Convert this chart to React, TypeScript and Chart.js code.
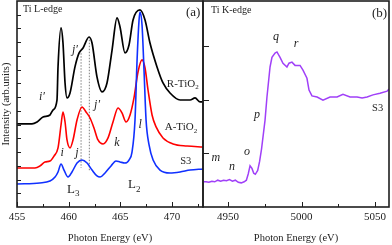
import React, { useEffect, useRef } from "react";
import { Chart, registerables } from "chart.js";

Chart.register(...registerables);

const SERIF = "\"Liberation Serif\", \"Times New Roman\", \"DejaVu Serif\", serif";

// ---------------- Panel (a): Ti L-edge ----------------
const lTickValues = [455, 460, 465, 470];
const lXMarks = [455, 457.5, 460, 462.5, 465, 467.5, 470, 472.5];
const lYMarks = [1, 2, 3, 4, 5, 6, 7, 8, 9, 10, 11, 12, 13, 14];

const rutileEnergy = [455.0, 456.45, 456.94, 457.52, 458.19, 458.48, 458.87, 458.97, 459.26, 459.45, 459.65, 459.84, 460.13, 460.61, 461.0, 461.39, 461.97, 462.26, 462.74, 463.23, 463.71, 464.2, 464.68, 464.97, 465.45, 465.84, 466.23, 466.9, 467.39, 467.87, 468.55, 469.13, 469.81, 470.78, 471.75, 472.23, 472.72, 473.0];
const rutileIntensity = [6.05, 6.05, 6.19, 6.55, 6.7, 7.06, 7.79, 10.2, 13.04, 11.94, 9.03, 7.94, 8.3, 10.2, 11.2, 11.58, 12.38, 11.94, 9.47, 8.38, 9.03, 11.43, 13.77, 13.11, 11.22, 11.8, 13.62, 14.35, 13.62, 11.94, 10.2, 9.03, 8.3, 7.79, 7.79, 7.94, 7.65, 7.65];

const anataseEnergy = [455, 456.74, 457.23, 457.71, 458.19, 458.58, 458.97, 459.26, 459.45, 459.65, 459.84, 460.13, 460.42, 460.81, 461.29, 461.68, 462.07, 462.45, 462.84, 463.33, 463.81, 464.29, 464.78, 465.16, 465.55, 465.94, 466.32, 466.71, 467.1, 467.39, 467.68, 468.07, 468.46, 469.13, 470.1, 471.46, 473];
const anataseIntensity = [2.84, 2.84, 2.99, 3.28, 3.35, 3.71, 4.3, 5.97, 6.92, 6.19, 4.88, 4.3, 4.88, 6.34, 7.28, 6.92, 6.48, 5.75, 4.88, 4.59, 5.03, 6.19, 7.21, 6.85, 6.19, 6.7, 7.94, 9.83, 10.71, 10.12, 8.52, 6.7, 5.83, 5.03, 4.59, 4.44, 4.37];

const s3LEnergy = [455, 457.2, 458.19, 458.68, 458.97, 459.26, 459.55, 459.94, 460.32, 460.81, 461.29, 461.78, 462.26, 462.74, 463.04, 463.52, 464.1, 464.58, 464.97, 465.45, 465.84, 466.13, 466.42, 466.62, 466.81, 466.9, 467.1, 467.29, 467.49, 467.78, 468.17, 468.84, 469.81, 470.78, 471.75, 473];
const s3LIntensity = [1.68, 1.75, 1.89, 2.18, 2.55, 3.13, 2.69, 2.18, 2.55, 3.2, 3.42, 3.2, 2.69, 2.26, 2.18, 2.48, 2.99, 3.35, 3.28, 3.2, 3.42, 4.0, 6.34, 10.7, 13.6, 14.2, 13.25, 10.0, 6.34, 4.52, 3.42, 2.69, 2.48, 2.55, 2.69, 2.77];

const guide1Energy = [461.2, 461.2];
const guide1Intensity = [11.2, 2.85];
const guide2Energy = [462.0, 462.0];
const guide2Intensity = [12.4, 2.6];

// ---------------- Panel (b): Ti K-edge ----------------
const kTickValues = [4950, 5000, 5050];
const kXMarks = [4950, 4975, 5000, 5025, 5050];
const kYMarks = [1, 2, 3];

const s3KEnergy = [4933.5, 4935, 4937, 4939, 4941, 4943, 4945, 4947, 4949, 4951, 4953, 4955, 4957, 4959, 4961, 4962.5, 4963.8, 4965, 4966.3, 4967.5, 4968.6, 4970.2, 4971.5, 4972.8, 4974, 4975.2, 4976.5, 4978.6, 4979.9, 4982, 4983.3, 4985.4, 4987.4, 4990.1, 4991.5, 4993.5, 4995.6, 4999, 5001, 5003.7, 5005.1, 5007.1, 5010.6, 5014.6, 5019.4, 5024.2, 5028.2, 5033, 5037.8, 5041.2, 5044.6, 5048.6, 5053.4, 5058.2, 5059.5];
const s3KIntensity = [0.47, 0.47, 0.46, 0.48, 0.47, 0.5, 0.48, 0.5, 0.49, 0.51, 0.48, 0.5, 0.46, 0.45, 0.47, 0.5, 0.62, 0.77, 0.72, 0.63, 0.61, 0.68, 0.85, 1.08, 1.35, 1.62, 2.05, 2.61, 2.79, 2.87, 2.89, 2.79, 2.68, 2.61, 2.68, 2.7, 2.64, 2.64, 2.55, 2.4, 2.18, 2.07, 2.05, 1.99, 2.05, 2.05, 2.1, 2.05, 2.05, 2.03, 2.05, 2.09, 2.12, 2.16, 2.2];

type Note = { text: string; sub?: string; x: number; y: number; size: number; italic?: boolean; align?: "left" | "center" | "right" };

const notesA: Note[] = [
  { text: "Ti L-edge", x: 455.58, y: 14.42, size: 10, align: "left" },
  { text: "(a)", x: 472.75, y: 14.13, size: 13, align: "right" },
  { text: "i\u2032", x: 457.42, y: 8.0, size: 12, italic: true, align: "center" },
  { text: "j\u2032", x: 460.6, y: 11.45, size: 12, italic: true, align: "center" },
  { text: "j\u2032", x: 462.75, y: 7.45, size: 12, italic: true, align: "center" },
  { text: "R-TiO", sub: "2", x: 469.5, y: 8.95, size: 11, align: "left" },
  { text: "A-TiO", sub: "2", x: 469.3, y: 5.8, size: 11, align: "left" },
  { text: "S3", x: 470.8, y: 3.35, size: 10.5, align: "left" },
  { text: "i", x: 459.36, y: 3.93, size: 12, italic: true, align: "center" },
  { text: "j", x: 460.81, y: 3.93, size: 12, italic: true, align: "center" },
  { text: "k", x: 464.68, y: 4.66, size: 12, italic: true, align: "center" },
  { text: "l", x: 466.91, y: 5.97, size: 12, italic: true, align: "center" },
  { text: "L", sub: "3", x: 459.84, y: 1.25, size: 13, align: "left" },
  { text: "L", sub: "2", x: 465.75, y: 1.6, size: 13, align: "left" },
];

const notesB: Note[] = [
  { text: "Ti K-edge", x: 4938.4, y: 3.67, size: 10, align: "left" },
  { text: "(b)", x: 5058.2, y: 3.61, size: 13, align: "right" },
  { text: "q", x: 4982.7, y: 3.17, size: 12, italic: true, align: "center" },
  { text: "r", x: 4996.3, y: 3.04, size: 12, italic: true, align: "center" },
  { text: "p", x: 4969.7, y: 1.71, size: 12, italic: true, align: "center" },
  { text: "S3", x: 5048.0, y: 1.84, size: 10.5, align: "left" },
  { text: "m", x: 4941.8, y: 0.91, size: 12, italic: true, align: "center" },
  { text: "n", x: 4952.7, y: 0.74, size: 12, italic: true, align: "center" },
  { text: "o", x: 4962.9, y: 1.02, size: 12, italic: true, align: "center" },
];

const toPoints = (xs: number[], ys: number[]) => xs.map((x, i) => ({ x, y: ys[i] }));

function framePlugin(xMarks: number[], majorStep: number, yMarks: number[], yLen: number) {
  return {
    id: "frameTicks",
    afterDatasetsDraw(chart: any) {
      const { ctx, chartArea, scales } = chart;
      const { left, right, top, bottom } = chartArea;
      ctx.save();
      ctx.strokeStyle = "#1e1e1e";
      ctx.lineWidth = 1;
      ctx.beginPath();
      for (const v of xMarks) {
        const px = Math.round(scales.x.getPixelForValue(v)) + 0.5;
        const major = Math.abs(v / majorStep - Math.round(v / majorStep)) < 1e-6;
        const len = major ? 5 : 3;
        ctx.moveTo(px, bottom);
        ctx.lineTo(px, bottom - len);
      }
      for (const v of yMarks) {
        const py = Math.round(scales.y.getPixelForValue(v)) + 0.5;
        ctx.moveTo(left, py);
        ctx.lineTo(left + yLen, py);
      }
      ctx.stroke();
      ctx.lineWidth = 1.6;
      ctx.strokeRect(left, top, right - left, bottom - top);
      ctx.restore();
    },
  };
}

function notesPlugin(notes: Note[]) {
  return {
    id: "notes",
    afterDraw(chart: any) {
      const { ctx, scales } = chart;
      ctx.save();
      ctx.fillStyle = "#1e1e1e";
      ctx.textBaseline = "middle";
      for (const n of notes) {
        const px = scales.x.getPixelForValue(n.x);
        const py = scales.y.getPixelForValue(n.y);
        const mainFont = `${n.italic ? "italic " : ""}${n.size}px ${SERIF}`;
        const subSize = Math.round(n.size * 0.68);
        const subFont = `${subSize}px ${SERIF}`;
        ctx.font = mainFont;
        const w1 = ctx.measureText(n.text).width;
        let w2 = 0;
        if (n.sub) {
          ctx.font = subFont;
          w2 = ctx.measureText(n.sub).width;
        }
        const total = w1 + w2;
        let start = px;
        if (n.align === "center") start = px - total / 2;
        else if (n.align === "right") start = px - total;
        ctx.textAlign = "left";
        ctx.font = mainFont;
        ctx.fillText(n.text, start, py);
        if (n.sub) {
          ctx.font = subFont;
          ctx.fillText(n.sub, start + w1, py + n.size * 0.32);
        }
      }
      ctx.restore();
    },
  };
}

function makeConfig(opts: {
  datasets: any[];
  xMin: number;
  xMax: number;
  yMax: number;
  tickValues: number[];
  padLeft: number;
  padRight: number;
  yTitle: boolean;
  yWidth: number;
  plugins: any[];
}) {
  return {
    type: "line",
    data: { datasets: opts.datasets },
    options: {
      responsive: false,
      maintainAspectRatio: false,
      animation: false,
      parsing: false,
      layout: { padding: { left: opts.padLeft, right: opts.padRight, top: 1, bottom: 0 } },
      plugins: { legend: { display: false }, tooltip: { enabled: false } },
      elements: { point: { radius: 0 } },
      scales: {
        x: {
          type: "linear",
          min: opts.xMin,
          max: opts.xMax,
          grid: { display: false, drawTicks: false },
          border: { display: false },
          ticks: {
            font: { family: SERIF, size: 11 },
            color: "#222",
            padding: 4,
            maxRotation: 0,
            autoSkip: false,
            callback: (v: any) => String(v),
          },
          afterBuildTicks: (s: any) => {
            s.ticks = opts.tickValues.map((v) => ({ value: v }));
          },
          afterFit: (s: any) => {
            s.height = 38;
          },
          title: {
            display: true,
            text: "Photon Energy (eV)",
            font: { family: SERIF, size: 10.5 },
            color: "#222",
            padding: { top: 0, bottom: 0 },
          },
        },
        y: {
          type: "linear",
          min: 0,
          max: opts.yMax,
          display: opts.yTitle,
          grid: { display: false, drawTicks: false },
          border: { display: false },
          ticks: { display: false },
          afterFit: (s: any) => {
            s.width = opts.yWidth;
          },
          title: {
            display: opts.yTitle,
            text: "Intensity (arb.units)",
            font: { family: SERIF, size: 10.5 },
            color: "#222",
            padding: { top: 0, bottom: 0 },
          },
        },
      },
    },
    plugins: opts.plugins,
  } as any;
}

export default function App() {
  const refA = useRef<HTMLCanvasElement>(null);
  const refB = useRef<HTMLCanvasElement>(null);

  useEffect(() => {
    const lineBase = { pointRadius: 0, fill: false, cubicInterpolationMode: "monotone" };
    const dsA = [
      { ...lineBase, data: toPoints(s3LEnergy, s3LIntensity), borderColor: "#1030ff", borderWidth: 1.6, order: 0 },
      { ...lineBase, data: toPoints(anataseEnergy, anataseIntensity), borderColor: "#ff0000", borderWidth: 1.6, order: 1 },
      { ...lineBase, data: toPoints(rutileEnergy, rutileIntensity), borderColor: "#000000", borderWidth: 1.7, order: 2 },
      { pointRadius: 0, data: toPoints(guide1Energy, guide1Intensity), borderColor: "#808080", borderWidth: 1, borderDash: [1.5, 1.5], order: 3 },
      { pointRadius: 0, data: toPoints(guide2Energy, guide2Intensity), borderColor: "#808080", borderWidth: 1, borderDash: [1.5, 1.5], order: 3 },
    ];
    const dsB = [
      { pointRadius: 0, fill: false, tension: 0, data: toPoints(s3KEnergy, s3KIntensity), borderColor: "#a040f8", borderWidth: 1.5 },
    ];

    const chartA = new Chart(
      refA.current!,
      makeConfig({
        datasets: dsA,
        xMin: 455,
        xMax: 473,
        yMax: 15,
        tickValues: lTickValues,
        padLeft: 0,
        padRight: 7,
        yTitle: true,
        yWidth: 17,
        plugins: [framePlugin(lXMarks, 5, lYMarks, 4), notesPlugin(notesA)],
      })
    );
    const chartB = new Chart(
      refB.current!,
      makeConfig({
        datasets: dsB,
        xMin: 4933,
        xMax: 5059.5,
        yMax: 3.84,
        tickValues: kTickValues,
        padLeft: 7,
        padRight: 3,
        yTitle: false,
        yWidth: 0,
        plugins: [framePlugin(kXMarks, 50, kYMarks, 6), notesPlugin(notesB)],
      })
    );
    let alive = true;
    const fontsApi: any = (document as any).fonts;
    if (fontsApi && fontsApi.load) {
      Promise.all([
        fontsApi.load('11px "Liberation Serif"'),
        fontsApi.load('italic 12px "Liberation Serif"'),
      ])
        .catch(() => null)
        .then(() => {
          if (alive) {
            chartA.update();
            chartB.update();
          }
        });
    }
    return () => {
      alive = false;
      chartA.destroy();
      chartB.destroy();
    };
  }, []);

  return (
    <div style={{ position: "fixed", left: 0, top: 0, width: 392, height: 245, background: "#fff", overflow: "hidden" }}>
      <canvas ref={refA} width={210} height={245} style={{ position: "absolute", left: 0, top: 0, width: 210, height: 245 }} />
      <canvas ref={refB} width={196} height={245} style={{ position: "absolute", left: 196, top: 0, width: 196, height: 245 }} />
    </div>
  );
}
